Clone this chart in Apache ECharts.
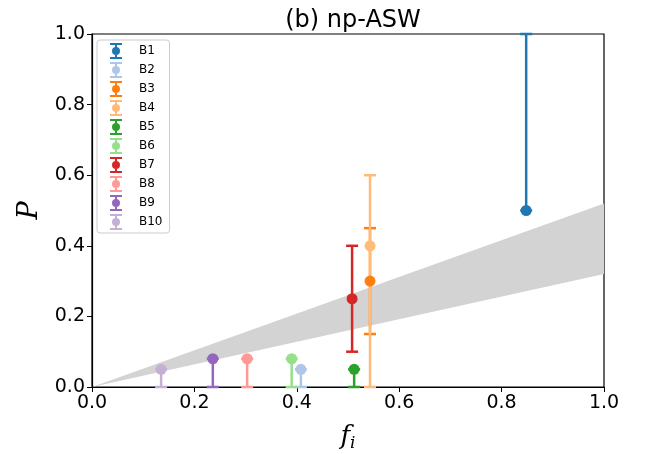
<!DOCTYPE html>
<html>
<head>
<meta charset="utf-8">
<script src="https://cdn.jsdelivr.net/npm/echarts@6/dist/echarts.min.js"></script>
<style>
html,body{margin:0;padding:0;background:#fff;}
#chart{width:646px;height:454px;}
</style>
</head>
<body>
<div id="chart"></div>
<script>
// ---- data ----
const names = ['B1','B2','B3','B4','B5','B6','B7','B8','B9','B10'];
const colors = ['#1f77b4','#aec7e8','#ff7f0e','#ffbb78','#2ca02c','#98df8a','#d62728','#ff9896','#9467bd','#c5b0d5'];
const fValues = [0.848, 0.408, 0.543, 0.543, 0.512, 0.390, 0.508, 0.303, 0.236, 0.135];
const pValues = [0.50, 0.05, 0.30, 0.40, 0.05, 0.08, 0.25, 0.08, 0.08, 0.05];
const pLow    = [0.50, 0.00, 0.15, 0.00, 0.00, 0.00, 0.10, 0.00, 0.00, 0.00];
const pHigh   = [1.00, 0.05, 0.45, 0.60, 0.05, 0.08, 0.40, 0.08, 0.08, 0.05];
const bandF    = [0.0, 1.0];
const bandLow  = [0.0, 0.32];
const bandHigh = [0.0, 0.52];
const ticks = [0.0, 0.2, 0.4, 0.6, 0.8, 1.0];

const legendIcon = 'path://M0 0H12V2H0Z M5 0H7V16H5Z M0 14H12V16H0Z M2 8A4 4 0 1 1 10 8A4 4 0 1 1 2 8Z';

const series = [];
// band
series.push({
  type: 'custom',
  name: 'band',
  silent: true,
  z: 1,
  data: [[0]],
  renderItem: function (params, api) {
    const pts = [];
    for (let i = 0; i < bandF.length; i++) pts.push(api.coord([bandF[i], bandHigh[i]]));
    for (let i = bandF.length - 1; i >= 0; i--) pts.push(api.coord([bandF[i], bandLow[i]]));
    return { type: 'polygon', shape: { points: pts }, style: { fill: '#d3d3d3', stroke: null } };
  }
});
names.forEach(function (n, i) {
  series.push({
    type: 'custom',
    name: n,
    z: 3,
    itemStyle: { color: colors[i] },
    encode: { x: 0, y: 1 },
    data: [[fValues[i], pValues[i], pLow[i], pHigh[i]]],
    renderItem: function (params, api) {
      const x = api.value(0);
      const lo = api.coord([x, api.value(2)]);
      const hi = api.coord([x, api.value(3)]);
      const c = colors[i];
      const hw = 6;
      return {
        type: 'group',
        children: [
          { type: 'line', shape: { x1: lo[0], y1: lo[1], x2: hi[0], y2: hi[1] }, style: { stroke: c, lineWidth: 2.5 } },
          { type: 'line', shape: { x1: lo[0] - hw, y1: lo[1], x2: lo[0] + hw, y2: lo[1] }, style: { stroke: c, lineWidth: 2.5 } },
          { type: 'line', shape: { x1: hi[0] - hw, y1: hi[1], x2: hi[0] + hw, y2: hi[1] }, style: { stroke: c, lineWidth: 2.5 } }
        ]
      };
    }
  });
});
names.forEach(function (n, i) {
  series.push({
    type: 'scatter',
    name: n,
    z: 4,
    symbol: 'circle',
    symbolSize: 11,
    itemStyle: { color: colors[i], opacity: 1 },
    data: [[fValues[i], pValues[i]]]
  });
});

const chart = echarts.init(document.getElementById('chart'), null, { renderer: 'canvas' });
chart.setOption({
  animation: false,
  backgroundColor: '#fff',
  title: {
    text: '(b) np-ASW',
    left: 348, top: 4, textAlign: 'center',
    textStyle: { fontFamily: 'DejaVu Sans', fontSize: 24, fontWeight: 'normal', color: '#000' }
  },
  grid: { left: 92, right: 42, top: 34, bottom: 67, outerBoundsMode: 'none', containLabel: false, show: true, borderColor: '#000', borderWidth: 1.2, backgroundColor: 'transparent' },
  legend: {
    data: names,
    orient: 'vertical',
    left: 97, top: 40,
    itemWidth: 12, itemHeight: 16, itemGap: 3,
    icon: legendIcon,
    padding: [3, 7, 3, 13],
    backgroundColor: '#fff',
    borderColor: '#cccccc', borderWidth: 1, borderRadius: 3,
    selectedMode: false,
    textStyle: { fontFamily: 'DejaVu Sans', fontSize: 12, color: '#000', padding: [0, 0, 0, 12] }
  },
  xAxis: {
    type: 'value', min: 0, max: 1, interval: 0.2,
    splitLine: { show: false },
    axisLine: { onZero: false, lineStyle: { color: '#000', width: 1.2 } },
    axisTick: { show: true, inside: false, length: 5, lineStyle: { color: '#000' } },
    axisLabel: { fontFamily: 'DejaVu Sans', fontSize: 19, color: '#000', margin: 7, formatter: v => v.toFixed(1) },
    name: '{f|f}{i|i}',
    nameLocation: 'middle', nameGap: 36,
    nameTextStyle: { rich: {
      f: { fontFamily: 'DejaVu Serif', fontStyle: 'italic', fontSize: 26, color: '#000' },
      i: { fontFamily: 'DejaVu Serif', fontStyle: 'italic', fontSize: 17, color: '#000', verticalAlign: 'bottom', padding: [12, 0, 0, 0] }
    } }
  },
  yAxis: {
    type: 'value', min: 0, max: 1, interval: 0.2,
    splitLine: { show: false },
    axisLine: { onZero: false, lineStyle: { color: '#000', width: 1.2 } },
    axisTick: { show: true, inside: false, length: 5, lineStyle: { color: '#000' } },
    axisLabel: { fontFamily: 'DejaVu Sans', fontSize: 19, color: '#000', margin: 7, formatter: v => v.toFixed(1) },
    name: 'P',
    nameLocation: 'middle', nameGap: 46, nameRotate: 90,
    nameTextStyle: { fontFamily: 'DejaVu Serif', fontStyle: 'italic', fontSize: 27, color: '#000' }
  },
  series: series
});
</script>
</body>
</html>
